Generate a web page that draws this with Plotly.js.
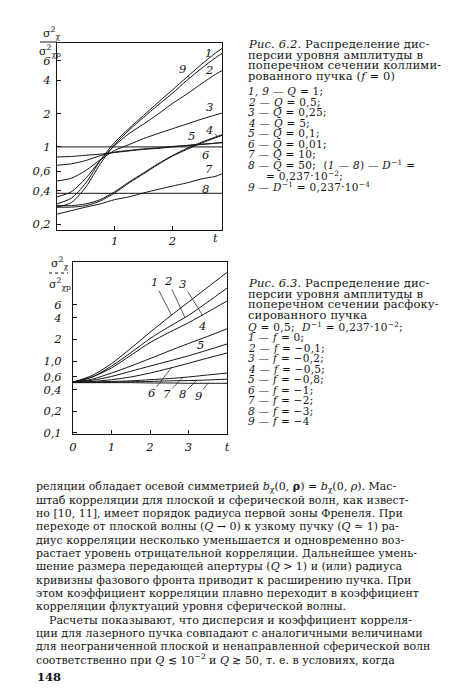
<!DOCTYPE html>
<html><head><meta charset="utf-8">
<script src="https://cdn.plot.ly/plotly-3.0.1.min.js"></script>
<style>html,body{margin:0;padding:0;background:#fff}#chart{width:450px;height:692px}</style>
</head><body><div id="chart"></div>
<script>
// ---------- Fig. 6.2 data (collimated beam) ----------
const fig62X = [0, 0.25, 0.5, 0.75, 1, 1.25, 1.5, 1.75, 2, 2.25, 2.5, 2.75, 2.86];
const fig62C1 = [0.305, 0.344, 0.472, 0.753, 1.10, 1.47, 1.93, 2.52, 3.28, 4.28, 5.57, 7.1, 7.8];
const fig62C9 = [0.285, 0.314, 0.433, 0.703, 1.05, 1.42, 1.85, 2.39, 3.06, 4.0, 5.12, 6.43, 7.05];
const fig62C2 = [0.353, 0.393, 0.521, 0.753, 1.03, 1.32, 1.61, 1.98, 2.47, 3.01, 3.72, 4.55, 4.9];
const fig62C3 = [0.492, 0.521, 0.612, 0.764, 0.929, 1.05, 1.19, 1.32, 1.46, 1.61, 1.78, 1.95, 2.02];
const fig62C4 = [0.294, 0.294, 0.305, 0.333, 0.393, 0.482, 0.581, 0.703, 0.834, 0.97, 1.10, 1.23, 1.29];
const fig62C5 = [0.682, 0.703, 0.753, 0.834, 0.897, 0.929, 0.959, 0.98, 1.01, 1.03, 1.06, 1.08, 1.10];
const fig62C6 = [0.81, 0.82, 0.84, 0.86, 0.89, 0.92, 0.95, 0.97, 1.0, 1.03, 1.05, 1.08, 1.09];
const fig62C7 = [0.285, 0.285, 0.294, 0.324, 0.383, 0.472, 0.571, 0.692, 0.824, 0.948, 1.08, 1.21, 1.27];
const fig62C8 = [0.246, 0.265, 0.285, 0.305, 0.333, 0.353, 0.383, 0.412, 0.442, 0.472, 0.512, 0.542, 0.571];
const fig62RefX = [0, 2.86];
const fig62Plane = [1, 1];
const fig62Sphere = [0.38, 0.38];
const fig62YTicks = [6, 4, 2, 1, 0.6, 0.4, 0.2];
const fig62YText = ['6', '4', '2', '1', '0,6', '0,4', '0,2'];
const fig62XTicks = [1, 2];
const fig62XText = ['1', '2'];

// ---------- Fig. 6.3 data (defocused beam) ----------
const fig63X = [0, 0.5, 1, 1.5, 2, 2.5, 3, 3.5, 4];
const fig63C1 = [0.51, 0.63, 0.92, 1.5, 2.5, 4.1, 6.6, 10.6, 17];
const fig63C2 = [0.51, 0.6, 0.85, 1.3, 2.05, 3.0, 4.3, 6.6, 10.3];
const fig63C3 = [0.51, 0.6, 0.8, 1.2, 1.8, 2.5, 3.4, 4.8, 6.8];
const fig63C4 = [0.51, 0.56, 0.68, 0.85, 1.08, 1.38, 1.75, 2.2, 2.8];
const fig63C5 = [0.51, 0.54, 0.61, 0.72, 0.85, 1.0, 1.18, 1.42, 1.72];
const fig63C6 = [0.51, 0.52, 0.55, 0.6, 0.68, 0.79, 0.93, 1.1, 1.29];
const fig63C7 = [0.51, 0.51, 0.52, 0.53, 0.55, 0.57, 0.6, 0.64, 0.68];
const fig63C8 = [0.51, 0.51, 0.51, 0.515, 0.52, 0.53, 0.535, 0.545, 0.56];
const fig63C9 = [0.5, 0.5, 0.5, 0.5, 0.495, 0.495, 0.49, 0.49, 0.49];
const fig63YTicks = [6, 4, 2, 1, 0.6, 0.4, 0.2, 0.1];
const fig63YText = ['6', '4', '2', '1,0', '0,6', '0,4', '0,2', '0,1'];
const fig63XTicks = [0, 1, 2, 3, 4];
const fig63XText = ['0', '1', '2', '3', 't'];

// ---------- texts ----------
const cap62 = ['<i>Рис. 6.2.</i> Распределение дис-', 'персии уровня амплитуды в', 'поперечном сечении коллими-', 'рованного пучка (<i>f</i> = 0)'];
const leg62 = ['<i>1, 9</i> — <i>Q</i> = 1;', '<i>2</i> — <i>Q</i> = 0,5;', '<i>3</i> — <i>Q</i> = 0,25;', '<i>4</i> — <i>Q</i> = 5;', '<i>5</i> — <i>Q</i> = 0,1;', '<i>6</i> — <i>Q</i> = 0,01;', '<i>7</i> — <i>Q</i> = 10;', '<i>8</i> — <i>Q</i> = 50;  (<i>1</i> — <i>8</i>) — <i>D</i><sup>−1</sup> =', '= 0,237·10<sup>−2</sup>;', '<i>9</i> — <i>D</i><sup>−1</sup> = 0,237·10<sup>−4</sup>'];
const cap63 = ['<i>Рис. 6.3.</i> Распределение дис-', 'персии уровня амплитуды в', 'поперечном сечении расфоку-', 'сированного пучка'];
const leg63 = ['<i>Q</i> = 0,5;  <i>D</i><sup>−1</sup> = 0,237·10<sup>−2</sup>;', '<i>1</i> — <i>f</i> = 0;', '<i>2</i> — <i>f</i> = −0,1;', '<i>3</i> — <i>f</i> = −0,2;', '<i>4</i> — <i>f</i> = −0,5;', '<i>5</i> — <i>f</i> = −0,8;', '<i>6</i> — <i>f</i> = −1;', '<i>7</i> — <i>f</i> = −2;', '<i>8</i> — <i>f</i> = −3;', '<i>9</i> — <i>f</i> = −4'];
const bodyLines = [
  'реляции обладает осевой симметрией <i>b</i><sub>χ</sub>(0, <b>ρ</b>) = <i>b</i><sub>χ</sub>(0, <i>ρ</i>). Мас-',
  'штаб корреляции для плоской и сферической волн, как извест-',
  'но [10, 11], имеет порядок радиуса первой зоны Френеля. При',
  'переходе от плоской волны (<i>Q</i> → 0) к узкому пучку (<i>Q</i> ≃ 1) ра-',
  'диус корреляции несколько уменьшается и одновременно воз-',
  'растает уровень отрицательной корреляции. Дальнейшее умень-',
  'шение размера передающей апертуры (<i>Q</i> > 1) и (или) радиуса',
  'кривизны фазового фронта приводит к расширению пучка. При',
  'этом коэффициент корреляции плавно переходит в коэффициент',
  'корреляции флуктуаций уровня сферической волны.',
  'Расчеты показывают, что дисперсия и коэффициент корреля-',
  'ции для лазерного пучка совпадают с аналогичными величинами',
  'для неограниченной плоской и ненаправленной сферической волн',
  'соответственно при <i>Q</i> ≲ 10<sup>−2</sup> и <i>Q</i> ≳ 50, т. е. в условиях, когда'
];
const pageNumber = '148';

const W = 450, H = 692;
const INK = '#151515';
const SERIF = 'DejaVu Serif';
const px = v => v / W, py = v => 1 - v / H;

function line(x, y, xa, ya) {
  return {x: x, y: y, xaxis: xa, yaxis: ya, type: 'scatter', mode: 'lines',
          line: {color: INK, width: 1, shape: 'spline', smoothing: 0.8}, hoverinfo: 'skip', showlegend: false};
}
const traces = [
  line(fig62RefX, fig62Plane, 'x', 'y'), line(fig62RefX, fig62Sphere, 'x', 'y'),
  line(fig62X, fig62C1, 'x', 'y'), line(fig62X, fig62C9, 'x', 'y'), line(fig62X, fig62C2, 'x', 'y'),
  line(fig62X, fig62C3, 'x', 'y'), line(fig62X, fig62C4, 'x', 'y'), line(fig62X, fig62C5, 'x', 'y'),
  line(fig62X, fig62C6, 'x', 'y'), line(fig62X, fig62C7, 'x', 'y'), line(fig62X, fig62C8, 'x', 'y'),
  line(fig63X, fig63C1, 'x2', 'y2'), line(fig63X, fig63C2, 'x2', 'y2'), line(fig63X, fig63C3, 'x2', 'y2'),
  line(fig63X, fig63C4, 'x2', 'y2'), line(fig63X, fig63C5, 'x2', 'y2'), line(fig63X, fig63C6, 'x2', 'y2'),
  line(fig63X, fig63C7, 'x2', 'y2'), line(fig63X, fig63C8, 'x2', 'y2'), line(fig63X, fig63C9, 'x2', 'y2')
];

const tickFont = {family: SERIF, size: 11.5, color: INK, style: 'italic'};
function axisBase() {
  return {showline: true, mirror: true, linecolor: INK, linewidth: 1, ticks: 'inside', ticklen: 4,
          tickcolor: INK, tickwidth: 1, showgrid: false, zeroline: false, tickfont: tickFont, fixedrange: true};
}
const layout = {
  width: W, height: H, margin: {l: 0, r: 0, t: 0, b: 0}, paper_bgcolor: '#fff', plot_bgcolor: '#fff',
  showlegend: false,
  xaxis: Object.assign(axisBase(), {domain: [px(57), px(222)], range: [0, 2.86], anchor: 'y',
          tickmode: 'array', tickvals: fig62XTicks, ticktext: fig62XText, ticklabelstandoff: 1}),
  yaxis: Object.assign(axisBase(), {domain: [py(229.5), py(43)], type: 'log', range: [-0.748, 0.941],
          anchor: 'x', tickmode: 'array', tickvals: fig62YTicks, ticktext: fig62YText, ticklabelstandoff: 3}),
  xaxis2: Object.assign(axisBase(), {domain: [px(73), px(227)], range: [0, 4], anchor: 'y2',
          tickmode: 'array', tickvals: fig63XTicks, ticktext: fig63XText, ticklabelstandoff: 2}),
  yaxis2: Object.assign(axisBase(), {domain: [py(434), py(262)], type: 'log', range: [-1.014, 1.375],
          anchor: 'x2', tickmode: 'array', tickvals: fig63YTicks, ticktext: fig63YText, ticklabelstandoff: 8}),
  shapes: [
    {type: 'line', xref: 'paper', yref: 'paper', x0: px(40), x1: px(57), y0: py(42), y1: py(42), line: {color: INK, width: 1}},
    {type: 'line', xref: 'paper', yref: 'paper', x0: px(49), x1: px(68), y0: py(273), y1: py(273), line: {color: INK, width: 1, dash: 'dot'}}
  ],
  annotations: []
};
const A = layout.annotations;
const spaced = [];
function txt(x, y, text, size, opts, spacing) {
  if (spacing) spaced.push([A.length, spacing]);
  A.push(Object.assign({xref: 'paper', yref: 'paper', x: px(x), y: py(y), text: text, showarrow: false,
    xanchor: 'left', yanchor: 'middle', align: 'left', font: {family: SERIF, size: size, color: INK}}, opts || {}));
}
const lblFont = {family: SERIF, size: 11.5, color: INK, style: 'italic'};
function lbl(xa, ya, x, y, text, ax, ay) {
  const o = {xref: xa, yref: ya, x: x, y: y, text: text, font: lblFont};
  if (ax !== undefined) {
    Object.assign(o, {showarrow: true, arrowhead: 0, arrowwidth: 0.7, arrowcolor: INK, ax: ax, ay: ay, standoff: 0});
  } else {
    o.showarrow = false;
  }
  A.push(o);
}
// y-axis titles (fractions)
txt(51, 33, 'σ<sup>2</sup><sub>χ</sub>', 11, {xanchor: 'center'});
txt(50, 51, 'σ<sup>2</sup><sub>χp</sub>', 11, {xanchor: 'center'});
txt(59, 263, 'σ<sup>2</sup><sub>χ</sub>', 11, {xanchor: 'center'});
txt(60, 284, 'σ<sup>2</sup><sub>χp</sub>', 11, {xanchor: 'center'});
// x end label of fig 6.2
A.push({xref: 'x', yref: 'paper', x: 2.74, y: py(238), text: 't', showarrow: false, font: tickFont});

// curve labels fig 6.2
lbl('x', 'y', 2.62, 0.849, '1');
lbl('x', 'y', 2.30, 0.62, '9', -7, -9);
lbl('x', 'y', 2.64, 0.692, '2');
lbl('x', 'y', 2.65, 0.362, '3');
lbl('x', 'y', 2.36, 0.01, '5', -2, -10);
lbl('x', 'y', 2.78, 0.10, '4', -8, -6);
lbl('x', 'y', 2.58, -0.070, '6');
lbl('x', 'y', 2.64, -0.196, '7');
lbl('x', 'y', 2.57, -0.383, '8');
// curve labels fig 6.3
lbl('x2', 'y2', 2.56, 0.635, '1', -17, -33);
lbl('x2', 'y2', 2.91, 0.60, '2', -17, -37);
lbl('x2', 'y2', 3.37, 0.63, '3', -20, -32);
lbl('x2', 'y2', 3.34, 0.486, '4');
lbl('x2', 'y2', 3.32, 0.222, '5');
lbl('x2', 'y2', 2.56, -0.09, '6', -20, 26);
lbl('x2', 'y2', 2.83, -0.24, '7', -15, 16);
lbl('x2', 'y2', 3.21, -0.27, '8', -14, 14);
lbl('x2', 'y2', 3.51, -0.305, '9', -10, 13);

// captions
cap62.forEach((t, i) => txt(246, 44 + i * 10.5, t, 11.5, null, 0.15));
leg62.forEach((t, i) => txt(i === 8 ? 264 : 246, 92 + i * 10.45, t, 10.5, null, 0.3));
cap63.forEach((t, i) => txt(246, 283 + i * 10.5, t, 11.5, null, 0.15));
leg63.forEach((t, i) => txt(246, 327 + i * 10.45, t, 10.5, null, 0.3));
// body
bodyLines.forEach((t, i) => txt(i === 10 ? 47 : 34, 487 + i * 13.3, t, 11));
txt(35, 677, pageNumber, 11.5, {font: {family: SERIF, size: 11.5, color: INK, weight: 'bold'}});

Plotly.newPlot('chart', traces, layout, {staticPlot: true, displayModeBar: false}).then(gd => {
  const groups = gd.querySelectorAll('g.annotation');
  spaced.forEach(([idx, sp]) => {
    groups.forEach(g => {
      if (+g.getAttribute('data-index') === idx) {
        const t = g.querySelector('text.annotation-text');
        if (t) t.style.letterSpacing = sp + 'px';
      }
    });
  });
});
</script></body></html>
